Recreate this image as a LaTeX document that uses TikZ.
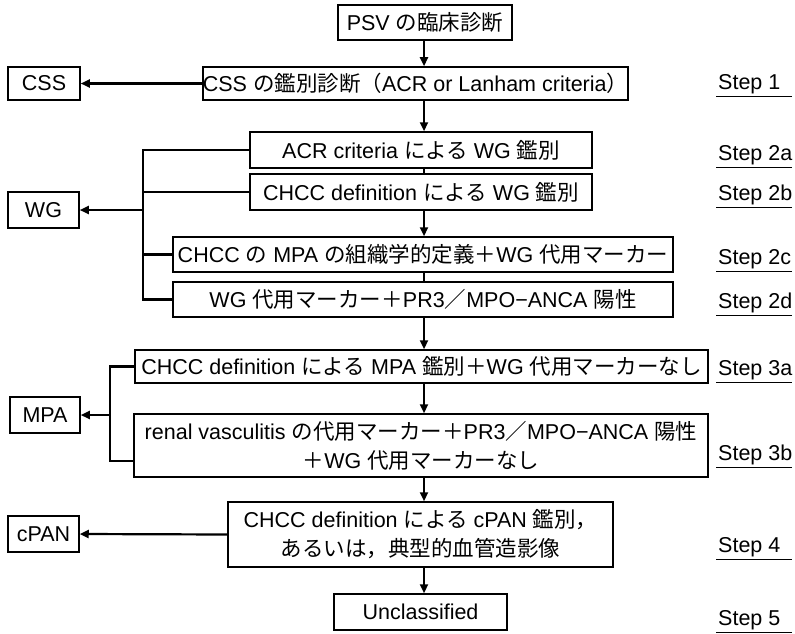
\documentclass[tikz,border=0pt]{standalone}
\usepackage{fontspec}
\setmainfont{Liberation Sans}
\newfontfamily\jpf{Noto Sans CJK JP}
\newcommand\jpt[1]{{\jpf #1}}
\usetikzlibrary{arrows.meta}
\begin{document}
\begin{tikzpicture}[x=1pt,y=-1pt,
  box/.style={draw, line width=1.5pt, inner sep=0pt, font=\fontsize{21.5}{29}\selectfont, align=center},
  conn/.style={line width=2.2pt},
  arr/.style={conn, -{Triangle[length=9pt,width=8pt]}},
  steplbl/.style={anchor=base west, inner sep=0pt, font=\fontsize{21.5}{29}\selectfont},
  uline/.style={line width=1.5pt}]
\useasboundingbox (0,0) rectangle (795,634);
\fill[white] (0,0) rectangle (795,634);
% main column
\node[box, minimum width=174pt, minimum height=35pt] (psv) at (425,22.5) {PSV \jpt{の臨床診断}};
\node[box, minimum width=425pt, minimum height=33pt] (cssd) at (415.5,83.5) {CSS \jpt{の鑑別診断（}ACR or Lanham criteria\jpt{）}};
\node[box, minimum width=342pt, minimum height=36pt] (acr) at (421,150) {ACR criteria \jpt{による} WG \jpt{鑑別}};
\node[box, minimum width=342pt, minimum height=36pt] (chccwg) at (421,192) {CHCC definition \jpt{による} WG \jpt{鑑別}};
\node[box, minimum width=500pt, minimum height=35pt] (chccmpa) at (423,254.5) {CHCC \jpt{の} MPA \jpt{の組織学的定義＋}WG \jpt{代用マーカー}};
\node[box, minimum width=500pt, minimum height=35pt] (wgm) at (423,299.5) {WG \jpt{代用マーカー＋}PR3\jpt{／}MPO−ANCA \jpt{陽性}};
\node[box, minimum width=573pt, minimum height=33pt] (mpad) at (421.5,366.5) {CHCC definition \jpt{による} MPA \jpt{鑑別＋}WG \jpt{代用マーカーなし}};
\node[box, minimum width=574pt, minimum height=63pt] (renal) at (421,445.5) {renal vasculitis \jpt{の代用マーカー＋}PR3\jpt{／}MPO−ANCA \jpt{陽性}\\\jpt{＋}WG \jpt{代用マーカーなし}};
\node[box, minimum width=385pt, minimum height=65pt] (cpand) at (420.5,534.5) {CHCC definition \jpt{による} cPAN \jpt{鑑別，}\\\jpt{あるいは，典型的血管造影像}};
\node[box, minimum width=173pt, minimum height=36pt] (uncl) at (420.5,612) {Unclassified};
% results
\node[box, minimum width=72pt, minimum height=33pt] (css) at (44,83.5) {CSS};
\node[box, minimum width=71pt, minimum height=36pt] (wg) at (43.5,210) {WG};
\node[box, minimum width=70pt, minimum height=36pt] (mpa) at (45,415) {MPA};
\node[box, minimum width=71pt, minimum height=36pt] (cpan) at (43.5,534) {cPAN};
% steps
\node[steplbl] (s1) at (718,89) {Step 1};
\node[steplbl] (s2a) at (718,160) {Step 2a};
\node[steplbl] (s2b) at (718,200) {Step 2b};
\node[steplbl] (s2c) at (718,264) {Step 2c};
\node[steplbl] (s2d) at (718,308) {Step 2d};
\node[steplbl] (s3a) at (718,375) {Step 3a};
\node[steplbl] (s3b) at (718,460) {Step 3b};
\node[steplbl] (s4) at (718,552) {Step 4};
\node[steplbl] (s5) at (718,625) {Step 5};
\foreach \s in {s1,s2a,s2b,s2c,s2d,s3a,s3b,s4,s5}
  \draw[uline] ([xshift=-2pt,yshift=-7.5pt]\s.base west) -- ++(76,0);
% spine
\coordinate (sp) at (424,0);
\draw[arr] (psv.south -| sp) -- (cssd.north -| sp);
\draw[arr] (cssd.south -| sp) -- (acr.north -| sp);
\draw[conn] (acr.south -| sp) -- (chccwg.north -| sp);
\draw[arr] (chccwg.south -| sp) -- (chccmpa.north -| sp);
\draw[conn] (chccmpa.south -| sp) -- (wgm.north -| sp);
\draw[arr] (wgm.south -| sp) -- (mpad.north -| sp);
\draw[arr] (mpad.south -| sp) -- (renal.north -| sp);
\draw[arr] (renal.south -| sp) -- (cpand.north -| sp);
\draw[arr] (cpand.south -| sp) -- (uncl.north -| sp);
% CSS
\draw[arr] (cssd.west) -- (css.east);
% WG bracket
\coordinate (wgs) at (143,0);
\draw[conn] (acr.west) -- (acr.west -| wgs) -- (wgm.west -| wgs) -- (wgm.west);
\draw[conn] (chccwg.west) -- (chccwg.west -| wgs);
\draw[conn] (chccmpa.west) -- (chccmpa.west -| wgs);
\draw[arr] (wg.east -| wgs) -- (wg.east);
% MPA bracket
\coordinate (mps) at (110,0);
\coordinate (rtick) at ([yshift=-15.5pt]renal.west);
\draw[conn] (mpad.west) -- (mpad.west -| mps) -- (rtick -| mps) -- (rtick);
\draw[arr] (mpa.east -| mps) -- (mpa.east);
% cPAN
\draw[arr] (cpand.west) -- (cpan.east);
\end{tikzpicture}
\end{document}
